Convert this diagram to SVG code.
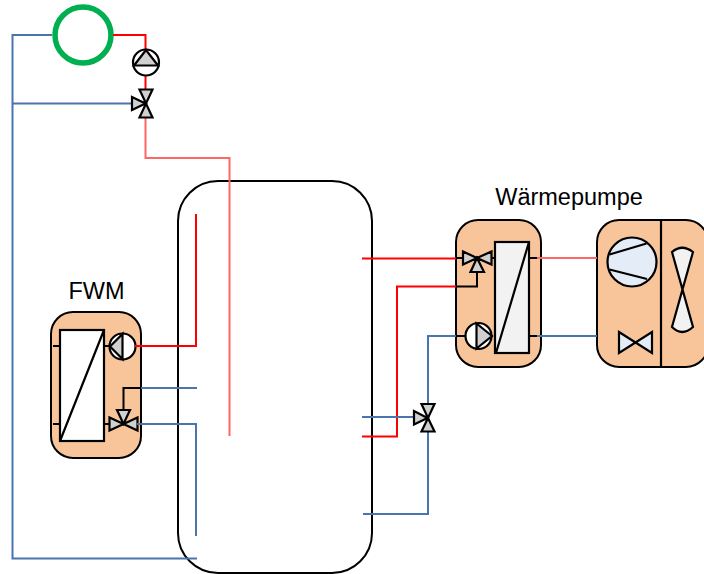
<svg xmlns="http://www.w3.org/2000/svg" width="704" height="574" viewBox="0 0 704 574">
<style>
.c{fill:none;stroke-width:2;stroke-linejoin:miter}
.r{stroke:#ff0000}.p{stroke:#ff6666}.b{stroke:#4a74ad}.k{stroke:#000}
.u{fill:#f8c59a;stroke:#000;stroke-width:2}
.s{stroke:#000;stroke-width:2.200;stroke-linejoin:miter}
.g{fill:#d0d0d0}.w{fill:#fff}.l{fill:#f2f2f2}.e{fill:#e4ecf7}
text{font-family:"Liberation Sans",Arial,sans-serif;font-size:23.500px;fill:#000}
</style>
<rect width="704" height="574" fill="#fff"/>
<g id="tank"><rect x="178" y="181" width="194" height="392" rx="40" fill="none" stroke="#000" stroke-width="2"/></g>
<g id="fwm">
<rect class="u" x="51" y="312" width="90" height="146" rx="22"/>
<text x="96.500" y="299" text-anchor="middle">FWM</text>
<rect class="s w" x="60" y="330" width="44" height="111"/>
<path class="s" fill="none" d="M60 441L104 330M53 346H60M53 424H60M104 346H110M104 424H110"/>
<g id="fwm-pump"><circle class="s w" cx="122.500" cy="346.500" r="13"/><path class="s g" d="M110 346.500L122.500 334V359Z"/></g>
<g id="fwm-valve"><path class="s g" d="M117 410H130L123.500 424ZM109.500 417.500V430.500L123.500 424ZM137.500 417.500V430.500L123.500 424Z"/></g>
</g>
<g id="waermepumpe">
<rect class="u" x="456" y="220" width="85" height="147" rx="22"/>
<text x="569" y="205" text-anchor="middle">Wärmepumpe</text>
<rect class="s l" x="495" y="242" width="34" height="111"/>
<path class="s" fill="none" d="M496 353L529 242M491 258H495M529 258H537M529 336H537"/>
<g id="wp-valve"><path class="s g" d="M463 251.500V264.500L477 258ZM491.500 251.500V264.500L477 258ZM477 258L470.500 272H484Z"/></g>
<g id="wp-pump"><circle class="s w" cx="478.500" cy="336" r="13"/><path class="s g" d="M492 336L476.500 323.500V348.500Z"/></g>
</g>
<g id="aussengeraet">
<rect class="u" x="597" y="220" width="111" height="147" rx="22"/>
<path class="s" fill="none" d="M661 220V367"/>
<circle class="s e" cx="632" cy="262" r="24.500"/>
<path class="s" fill="none" d="M609.500 254.500L646.500 243.500M609.500 269.500L647 279"/>
<path class="s e" d="M619 332L652 353V332L619 353Z"/>
<path class="s l" d="M672 252Q682 243.500 693 252L672 327Q682 337 693 327Z"/>
</g>
<g id="kessel"><circle cx="83" cy="35" r="28" fill="none" stroke="#00b050" stroke-width="5.500"/></g>
<g id="connectors">
<path class="c r" d="M113 35H145.500V50M145.500 75V90M135 346H196V214M362 258.500H456M456 286.500H397V436.500H362"/>
<path class="c p" d="M145.500 117V158H229.500V436M537 258H597"/>
<path class="c b" d="M52 35H12.500V558.500H197M12.500 103.500H132M141 388H197M137 424H196V536M362 417H414M428 404V336H456M363 514H428V431M537 336H597"/>
<path class="c k" d="M123.500 410V388H141M456 258H463M456 286.500H477V272M456 336H466"/>
</g>
<g id="top-pump"><circle class="s w" cx="146" cy="62.500" r="13"/><path class="s g" d="M146 50L134 65.500H158Z"/></g>
<g id="top-valve"><path class="s g" d="M139.500 89.500H152.500L146 103.500ZM139.500 117.500H152.500L146 103.500ZM132 97V110L145.500 103.500Z"/></g>
<g id="tank-valve"><path class="s g" d="M421.500 404H434.500L428 418ZM421.500 431.500H434.500L428 418ZM414 411V424.500L427.500 418Z"/></g>
</svg>
